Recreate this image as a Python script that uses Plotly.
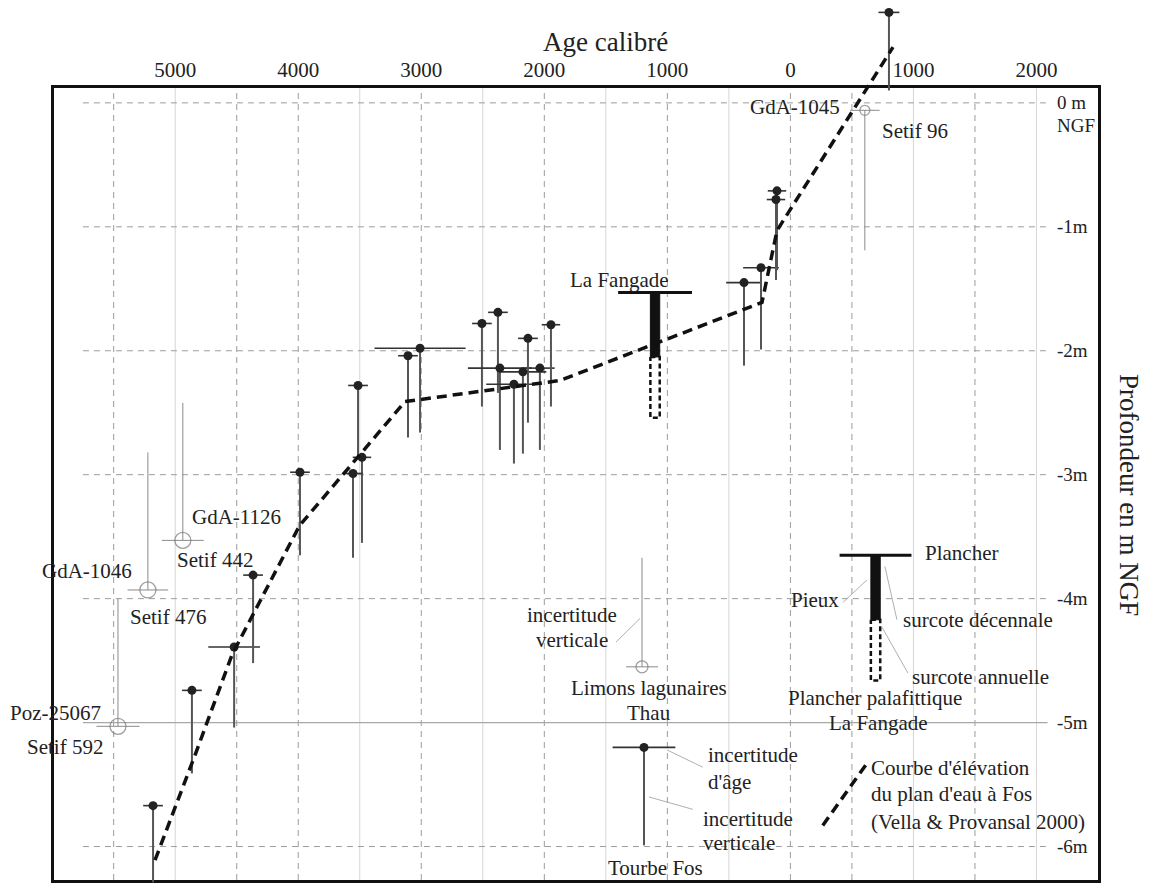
import plotly.graph_objects as go

FONT = "Liberation Serif, Times New Roman, DejaVu Serif, serif"

# ---------------- data ----------------
age_ticks = [-5000, -4000, -3000, -2000, -1000, 0, 1000, 2000]
age_tick_text = ["5000", "4000", "3000", "2000", "1000", "0", "1000", "2000"]
depth_ticks = [0, -1, -2, -3, -4, -5, -6]
depth_tick_text = ["0 m", "-1m", "-2m", "-3m", "-4m", "-5m", "-6m"]

grid_dashed_age = [-5500, -4500, -4000, -3000, -2000, -1000, 0, 500, 1500]
grid_light_age = [-5000, -3500, -2500, -1500, -500, 1000, 2000]
grid_dashed_depth = [0, -1, -2, -3, -4, -6]
grid_solid_depth = [-5]

# "Tourbe Fos" samples (filled dots)
peat_age = [-5180, -4864, -4521, -4367, -3986, -3514, -3482, -3555, -3108, -3010,
            -2507, -2377, -2361, -2174, -2036, -2247, -2133, -1946, -377, -239,
            -117, -109, 801]
peat_depth = [-5.67, -4.74, -4.39, -3.81, -2.98, -2.28, -2.86, -2.99, -2.04, -1.98,
              -1.78, -1.69, -2.14, -2.17, -2.14, -2.27, -1.90, -1.79, -1.45, -1.33,
              -0.78, -0.71, 0.73]
peat_age_err = [80, 80, 210, 80, 80, 80, 75, 80, 80, 370,
                80, 80, 260, 190, 120, 225, 80, 75, 145, 145,
                75, 75, 85]
peat_depth_low = [-6.29, -5.41, -5.04, -4.52, -3.65, -2.86, -3.55, -3.67, -2.70, -2.66,
                  -2.45, -2.34, -2.80, -2.83, -2.80, -2.91, -2.58, -2.45, -2.12, -1.99,
                  -1.43, -1.35, 0.10]

# lagoon silt samples (open circles)
lag_age = [605, -4938, -5222, -5465]
lag_depth = [-0.06, -3.53, -3.93, -5.03]
lag_age_err = [120, 170, 165, 175]
lag_depth_top = [-0.06, -2.42, -2.82, -4.00]
lag_depth_bottom = [-1.19, -3.53, -3.93, -5.03]

# legend examples
thau_age, thau_depth, thau_age_err, thau_top = -1206, -4.55, 130, -3.67
peat_ex_age, peat_ex_depth, peat_ex_age_err, peat_ex_low = -1190, -5.20, 255, -5.99

# La Fangade pile dwelling (site and legend)
fang_age = [-1100, 692]
fang_half_span = [300, 292]
fang_top = [-1.53, -3.65]
fang_mid = [-2.05, -4.17]
fang_bottom = [-2.54, -4.66]

# sea-level curve (Vella & Provansal 2000)
curve_age = [-5164, -4838, -4537, -4350, -3989, -3132, -1873, -231, -109, 834]
curve_depth = [-6.11, -5.26, -4.45, -4.09, -3.41, -2.41, -2.24, -1.61, -1.03, 0.45]
legend_curve_age = [263, 621]
legend_curve_depth = [-5.83, -5.33]

# leader lines
leaders = [
    ([-1417, -1222], [-4.35, -4.16]),
    ([427, 622], [-4.03, -3.85]),
    ([768, 866], [-3.74, -4.17]),
    ([744, 955], [-4.23, -4.60]),
    ([-1004, -712], [-5.22, -5.36]),
    ([-1150, -793], [-5.60, -5.70]),
]

labels = [
    ("GdA-1045", 419, -0.03, "right"),
    ("Setif 96", 728, -0.23, "left"),
    ("La Fangade", -1385, -1.43, "center"),
    ("GdA-1126", -4880, -3.34, "left"),
    ("Setif 442", -5002, -3.69, "left"),
    ("GdA-1046", -6099, -3.78, "left"),
    ("Setif 476", -5384, -4.15, "left"),
    ("Poz-25067", -6359, -4.92, "left"),
    ("Setif 592", -6221, -5.20, "left"),
    ("incertitude", -1776, -4.13, "center"),
    ("verticale", -1776, -4.33, "center"),
    ("Limons lagunaires", -1150, -4.72, "center"),
    ("Thau", -1150, -4.92, "center"),
    ("Plancher", 1078, -3.63, "left"),
    ("Pieux", 411, -4.01, "right"),
    ("surcote décennale", 898, -4.17, "left"),
    ("surcote annuelle", 971, -4.63, "left"),
    ("Plancher palafittique", 688, -4.80, "center"),
    ("La Fangade", 712, -5.00, "center"),
    ("incertitude", -686, -5.26, "left"),
    ("d'âge", -686, -5.48, "left"),
    ("incertitude", -727, -5.78, "left"),
    ("verticale", -727, -5.97, "left"),
    ("Tourbe Fos", -1093, -6.17, "center"),
    ("Courbe d'élévation", 638, -5.37, "left"),
    ("du plan d'eau à Fos", 638, -5.58, "left"),
    ("(Vella & Provansal 2000)", 638, -5.80, "left"),
]

# ---------------- layout geometry ----------------
FIG_W, FIG_H = 1150, 883
PL, PR, PT, PB = 54, 1098, 88, 880
X_MIN, X_MAX = -5985, 2500
Y_MIN, Y_MAX = -6.27, 0.12
kx = (PR - PL) / (X_MAX - X_MIN)
ky = (PB - PT) / (Y_MAX - Y_MIN)
X2 = [X_MIN - PL / kx, X_MAX + (FIG_W - PR) / kx]
Y2 = [Y_MIN - (FIG_H - PB) / ky, Y_MAX + PT / ky]
PILE = 38
GRID_X0, GRID_X1 = -5750, 2090
LABEL_X = 2150


def segs(pairs):
    xs, ys = [], []
    for (x0, x1), (y0, y1) in pairs:
        xs += [x0, x1, None]
        ys += [y0, y1, None]
    return xs, ys


fig = go.Figure()

# grid (main subplot)
gx, gy = segs([((a, a), (Y_MIN, Y_MAX)) for a in grid_light_age])
fig.add_trace(go.Scatter(x=gx, y=gy, mode="lines", line=dict(color="#d6d6d6", width=1),
                         hoverinfo="skip", showlegend=False))
gx, gy = segs([((a, a), (Y_MIN, Y_MAX)) for a in grid_dashed_age])
fig.add_trace(go.Scatter(x=gx, y=gy, mode="lines",
                         line=dict(color="#9c9c9c", width=1, dash="6px,5px"),
                         hoverinfo="skip", showlegend=False))
gx, gy = segs([((GRID_X0, GRID_X1), (d, d)) for d in grid_dashed_depth])
fig.add_trace(go.Scatter(x=gx, y=gy, mode="lines",
                         line=dict(color="#9c9c9c", width=1, dash="6px,5px"),
                         hoverinfo="skip", showlegend=False))
gx, gy = segs([((GRID_X0, GRID_X1), (d, d)) for d in grid_solid_depth])
fig.add_trace(go.Scatter(x=gx, y=gy, mode="lines", line=dict(color="#a8a8a8", width=1.2),
                         hoverinfo="skip", showlegend=False))

OV = dict(xaxis="x2", yaxis="y2", hoverinfo="skip", showlegend=False)

# leader lines
lx, ly = segs(leaders)
fig.add_trace(go.Scatter(x=lx, y=ly, mode="lines", line=dict(color="#b0b0b0", width=1), **OV))

# lagoon open circles (+ legend example)
la = lag_age + [thau_age]
ld = lag_depth + [thau_depth]
le = lag_age_err + [thau_age_err]
lt = lag_depth_top + [thau_top]
lb = lag_depth_bottom + [thau_depth]
fig.add_trace(go.Scatter(
    x=la, y=ld, mode="markers",
    marker=dict(symbol="circle-open", size=[10, 16, 16, 16, 12], color="#777",
                line=dict(width=1.3, color="#777")),
    error_x=dict(type="data", array=le, color="#8a8a8a", thickness=1, width=0),
    error_y=dict(type="data", symmetric=False,
                 array=[t - d for t, d in zip(lt, ld)],
                 arrayminus=[d - b for d, b in zip(ld, lb)],
                 color="#8a8a8a", thickness=1, width=0),
    **OV))

# peat samples (+ legend example)
pa = peat_age + [peat_ex_age]
pd_ = peat_depth + [peat_ex_depth]
pe = peat_age_err + [peat_ex_age_err]
plow = peat_depth_low + [peat_ex_low]
fig.add_trace(go.Scatter(
    x=pa, y=pd_, mode="markers",
    marker=dict(symbol="circle", size=9, color="#222"),
    error_x=dict(type="data", array=pe, color="#333", thickness=1.6, width=0),
    error_y=dict(type="data", symmetric=False, array=[0] * len(pa),
                 arrayminus=[d - l for d, l in zip(pd_, plow)],
                 color="#555", thickness=2, width=0),
    **OV))

# La Fangade symbols
for a, hs, t, m, b in zip(fang_age, fang_half_span, fang_top, fang_mid, fang_bottom):
    fig.add_trace(go.Scatter(x=[a - PILE, a + PILE, a + PILE, a - PILE, a - PILE],
                             y=[m, m, b, b, m], mode="lines", fill="toself",
                             fillcolor="white",
                             line=dict(color="#111", width=2.5, dash="5px,3px"), **OV))
    fig.add_trace(go.Scatter(x=[a - PILE, a + PILE, a + PILE, a - PILE, a - PILE],
                             y=[t, t, m, m, t], mode="lines", fill="toself",
                             fillcolor="#111", line=dict(color="#111", width=1), **OV))
    fig.add_trace(go.Scatter(x=[a - hs, a + hs], y=[t, t], mode="lines",
                             line=dict(color="#111", width=3), **OV))

# sea-level curve + legend sample
fig.add_trace(go.Scatter(x=curve_age, y=curve_depth, mode="lines",
                         line=dict(color="#111", width=3.5, dash="10px,6px"), **OV))
fig.add_trace(go.Scatter(x=legend_curve_age, y=legend_curve_depth, mode="lines",
                         line=dict(color="#111", width=3.5, dash="10px,6px"), **OV))

annotations = []
for text, x, y, xa in labels:
    annotations.append(dict(text=text, x=x, y=y, xref="x2", yref="y2", xanchor=xa,
                            yanchor="middle", align=xa,
                            showarrow=False, font=dict(family=FONT, size=21, color="#222")))
for v, t in zip(depth_ticks, depth_tick_text):
    annotations.append(dict(text=t, x=LABEL_X, y=v, xref="x2", yref="y2", xanchor="left",
                            yanchor="middle", showarrow=False,
                            font=dict(family=FONT, size=19, color="#222")))
annotations.append(dict(text="NGF", x=LABEL_X, y=-0.18, xref="x2", yref="y2", xanchor="left",
                        yanchor="middle", showarrow=False,
                        font=dict(family=FONT, size=19, color="#222")))
annotations.append(dict(text="Age calibré", x=605 / FIG_W, y=1 - 42 / FIG_H, xref="paper",
                        yref="paper", xanchor="center", yanchor="middle", showarrow=False,
                        font=dict(family=FONT, size=27, color="#222")))
annotations.append(dict(text="Profondeur en m NGF", x=1129 / FIG_W, y=1 - 495 / FIG_H,
                        xref="paper", yref="paper", xanchor="center", yanchor="middle",
                        textangle=90, showarrow=False,
                        font=dict(family=FONT, size=27, color="#222")))

fig.update_layout(
    width=FIG_W, height=FIG_H, autosize=False,
    margin=dict(l=0, r=0, t=0, b=0),
    paper_bgcolor="white", plot_bgcolor="rgba(0,0,0,0)",
    showlegend=False,
    xaxis=dict(domain=[PL / FIG_W, PR / FIG_W], range=[X_MIN, X_MAX], side="top",
               tickvals=age_ticks, ticktext=age_tick_text, ticks="",
               tickfont=dict(family=FONT, size=21, color="#222"),
               showgrid=False, zeroline=False, showline=True, mirror=True,
               linecolor="#111", linewidth=3, fixedrange=True),
    yaxis=dict(domain=[1 - PB / FIG_H, 1 - PT / FIG_H], range=[Y_MIN, Y_MAX],
               showticklabels=False, ticks="", showgrid=False, zeroline=False,
               showline=True, mirror=True, linecolor="#111", linewidth=3, fixedrange=True),
    xaxis2=dict(domain=[0, 1], range=X2, visible=False, anchor="y2", fixedrange=True),
    yaxis2=dict(domain=[0, 1], range=Y2, visible=False, anchor="x2", fixedrange=True),
    annotations=annotations,
)

fig.write_html(
    "out.html",
    config={"displayModeBar": False},
    post_script="document.body.style.margin='0';document.body.style.overflow='hidden';",
)
